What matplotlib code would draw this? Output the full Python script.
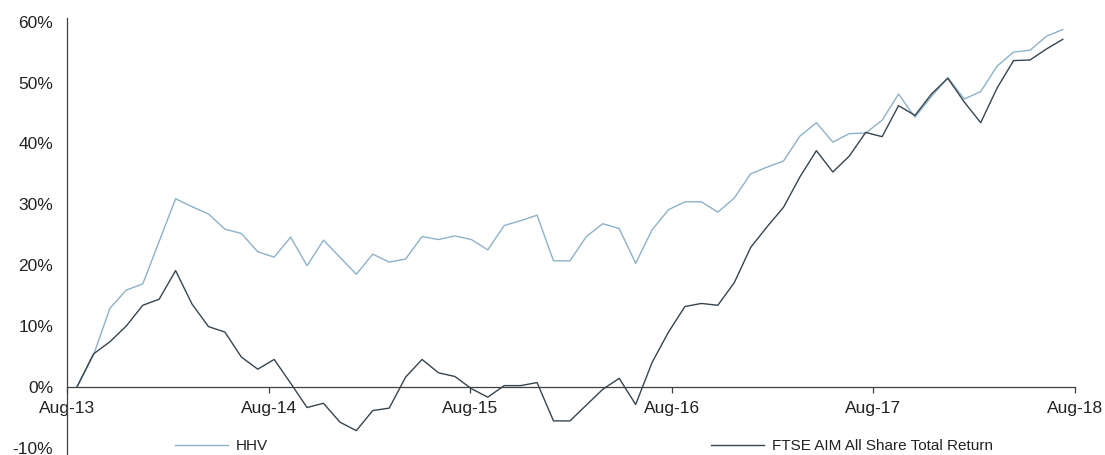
import matplotlib
matplotlib.use("Agg")
import matplotlib.pyplot as plt
import numpy as np
from matplotlib.ticker import FuncFormatter

# monthly cumulative returns, Aug-13 .. Aug-18 (%)
hhv = [0.0, 5.2, 12.9, 15.9, 16.9, 23.9, 30.9, 29.6, 28.4, 25.9,
       25.2, 22.2, 21.3, 24.6, 19.9, 24.1, 21.3, 18.5, 21.8, 20.5,
       21.0, 24.7, 24.2, 24.8, 24.2, 22.5, 26.5, 27.3, 28.2, 20.7,
       20.7, 24.7, 26.8, 26.0, 20.3, 25.8, 29.1, 30.4, 30.4, 28.7,
       31.0, 35.0, 36.1, 37.1, 41.2, 43.4, 40.2, 41.6, 41.7, 43.8,
       48.1, 44.3, 47.7, 50.8, 47.3, 48.5, 52.7, 55.0, 55.3, 57.6,
       58.7]
ftse = [0.0, 5.4, 7.4, 10.0, 13.4, 14.4, 19.1, 13.6, 9.9, 9.0,
        4.9, 2.9, 4.5, 0.6, -3.4, -2.7, -5.8, -7.2, -3.9, -3.5,
        1.6, 4.5, 2.3, 1.7, -0.3, -1.7, 0.2, 0.2, 0.7, -5.6,
        -5.6, -3.0, -0.4, 1.4, -2.9, 4.0, 9.0, 13.2, 13.7, 13.4,
        17.1, 22.9, 26.3, 29.5, 34.5, 38.8, 35.3, 37.9, 41.8, 41.1,
        46.2, 44.6, 48.1, 50.7, 46.8, 43.4, 49.1, 53.6, 53.7, 55.5,
        57.1]
tick_labels = ['Aug-13', 'Aug-14', 'Aug-15', 'Aug-16', 'Aug-17', 'Aug-18']
y_ticks = [-10, 0, 10, 20, 30, 40, 50, 60]

plt.rcParams['font.family'] = ['Liberation Sans', 'DejaVu Sans']

fig = plt.figure(figsize=(11.05, 4.55), dpi=100)
ax = fig.add_axes([67 / 1105, 0, (1075 - 67) / 1105, 1 - 18 / 455])

x = np.arange(len(hhv))
l1, = ax.plot(x, hhv, color='#8db2c8', lw=1.0, label='HHV')
l2, = ax.plot(x, ftse, color='#364550', lw=1.0, label='FTSE AIM All Share Total Return')

ax.set_xlim(-0.61, 60.74)
ax.set_ylim(-11.2, 60.6)

ax.spines['top'].set_visible(False)
ax.spines['right'].set_visible(False)
ax.spines['bottom'].set_position(('data', 0))
ax.spines['bottom'].set_color('#404040')
ax.spines['left'].set_color('#404040')
ax.spines['bottom'].set_linewidth(0.9)
ax.spines['left'].set_linewidth(0.9)

ax.set_xticks(np.linspace(-0.61, 60.74, len(tick_labels)))
ax.set_xticklabels(tick_labels)
ax.tick_params(axis='x', direction='out', length=4, width=0.9, color='#404040',
               pad=6.5, labelsize=12.5, labelcolor='#222222')

ax.set_yticks(y_ticks)
ax.yaxis.set_major_formatter(FuncFormatter(lambda v, p: f'{v:.0f}%'))
ax.tick_params(axis='y', length=0, pad=10, labelsize=12.5, labelcolor='#222222')

legend_kw = dict(loc='center left', frameon=False, borderpad=0, borderaxespad=0,
                 handlelength=3.47, handletextpad=0.5, fontsize=11,
                 labelcolor='#222222')
fig.legend(handles=[l1], bbox_to_anchor=(175 / 1105, 1 - 446 / 455), **legend_kw)
fig.legend(handles=[l2], bbox_to_anchor=(711 / 1105, 1 - 446 / 455), **legend_kw)

fig.savefig('out.png', dpi=100)
